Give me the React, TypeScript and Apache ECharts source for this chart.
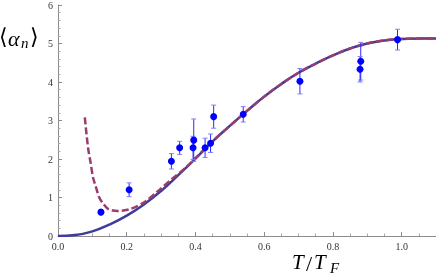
import React, { useEffect, useRef } from "react";
import * as echarts from "echarts";

// Solid theory curve
const solidT = [0, 0.05, 0.1, 0.15, 0.2, 0.25, 0.3, 0.35, 0.4, 0.45, 0.5, 0.55, 0.6, 0.65, 0.7, 0.75, 0.8, 0.85, 0.9, 0.95, 1.0, 1.05, 1.1];
const solidAlpha = [0, 0.025, 0.12, 0.3, 0.53, 0.82, 1.17, 1.58, 2.01, 2.46, 2.86, 3.25, 3.62, 3.95, 4.24, 4.48, 4.69, 4.87, 5.0, 5.08, 5.12, 5.13, 5.13];

// Dashed theory curve
const dashedT = [0.078, 0.0875, 0.095, 0.102, 0.11, 0.12, 0.13, 0.145, 0.16, 0.174, 0.19, 0.213, 0.252, 0.29, 0.33, 0.37, 0.4, 0.45, 0.5, 0.55, 0.6, 0.65, 0.7, 0.75, 0.8, 0.85, 0.9, 0.95, 1.0, 1.05, 1.1];
const dashedAlpha = [3.08, 2.29, 1.9, 1.52, 1.28, 1.0, 0.86, 0.71, 0.66, 0.65, 0.66, 0.71, 0.88, 1.16, 1.47, 1.76, 2.02, 2.46, 2.86, 3.25, 3.62, 3.95, 4.24, 4.48, 4.69, 4.87, 5.0, 5.08, 5.12, 5.13, 5.13];

// Measured points
const pointT = [0.125, 0.207, 0.33, 0.354, 0.395, 0.393, 0.428, 0.444, 0.453, 0.539, 0.704, 0.881, 0.879, 0.988];
const pointAlpha = [0.62, 1.2, 1.94, 2.29, 2.49, 2.29, 2.29, 2.41, 3.1, 3.16, 4.02, 4.54, 4.33, 5.1];
const pointErr = [0.04, 0.18, 0.2, 0.17, 0.55, 0.3, 0.25, 0.24, 0.3, 0.2, 0.33, 0.49, 0.33, 0.27];

const xTicks = { min: 0, max: 1.1, interval: 0.2 };
const yTicks = { min: 0, max: 6, interval: 1 };

const serif = "'Liberation Serif', 'DejaVu Serif', serif";

export default function App() {
  const ref = useRef<HTMLDivElement>(null);
  useEffect(() => {
    if (!ref.current) return;
    const chart = echarts.init(ref.current, undefined, { renderer: "svg" });
    const axisCommon = {
      axisLine: { show: true, onZero: false, lineStyle: { color: "#8c8c8c", width: 1 } },
      axisTick: { show: true, inside: true, length: 4, lineStyle: { color: "#8c8c8c" } },
      minorTick: { show: true, length: 2.5, lineStyle: { color: "#a8a8a8" } },
      splitLine: { show: false },
      axisLabel: { color: "#333", fontFamily: serif, fontSize: 10, margin: 5, showMaxLabel: false },
    };
    chart.setOption({
      animation: false,
      grid: { left: 58, right: 0, top: 3, bottom: 42 },
      xAxis: {
        type: "value",
        ...xTicks,
        ...axisCommon,
        minorTick: { ...axisCommon.minorTick, splitNumber: 4 },
        axisLabel: { ...axisCommon.axisLabel, formatter: (v: number) => v.toFixed(1) },
      },
      yAxis: {
        type: "value",
        ...yTicks,
        ...axisCommon,
        minorTick: { ...axisCommon.minorTick, splitNumber: 5 },
        axisLabel: { ...axisCommon.axisLabel, showMaxLabel: true },
      },
      series: [
        {
          type: "line",
          data: solidT.map((t, i) => [t, solidAlpha[i]]),
          showSymbol: false,
          smooth: 0.5,
          lineStyle: { color: "#3D3D99", width: 2.5 },
          z: 2,
        },
        {
          type: "line",
          data: dashedT.map((t, i) => [t, dashedAlpha[i]]),
          showSymbol: false,
          smooth: 0.3,
          lineStyle: { color: "#993D71", width: 2.5, type: [7, 3] },
          z: 3,
        },
        {
          type: "custom",
          data: pointT.map((t, i) => [t, pointAlpha[i], pointErr[i]]),
          encode: { x: 0, y: 1 },
          z: 4,
          renderItem: (params: any, api: any) => {
            const x = api.value(0);
            const y = api.value(1);
            const e = api.value(2);
            const top = api.coord([x, y + e]);
            const bot = api.coord([x, y - e]);
            const w = 2.5;
            return {
              type: "group",
              children: [
                { type: "line", shape: { x1: top[0], y1: top[1], x2: bot[0], y2: bot[1] }, style: { stroke: "#2a2aff", lineWidth: 1 } },
                { type: "line", shape: { x1: top[0] - w, y1: top[1], x2: top[0] + w, y2: top[1] }, style: { stroke: "#8080ff", lineWidth: 1 } },
                { type: "line", shape: { x1: bot[0] - w, y1: bot[1], x2: bot[0] + w, y2: bot[1] }, style: { stroke: "#8080ff", lineWidth: 1 } },
              ],
            };
          },
        },
        {
          type: "scatter",
          data: pointT.map((t, i) => [t, pointAlpha[i]]),
          symbolSize: 7,
          itemStyle: { color: "#0000ff", opacity: 1 },
          z: 5,
        },
      ],
      graphic: [
        { type: "text", x: -1, y: 36, style: { text: "⟨", font: `22px ${serif}`, fill: "#000", textVerticalAlign: "middle" } },
        { type: "text", x: 8, y: 38, style: { text: "α", font: `italic 22px ${serif}`, fill: "#000", textVerticalAlign: "middle" } },
        { type: "text", x: 21, y: 43, style: { text: "n", font: `italic 15px ${serif}`, fill: "#000", textVerticalAlign: "middle" } },
        { type: "text", x: 30, y: 36, style: { text: "⟩", font: `22px ${serif}`, fill: "#000", textVerticalAlign: "middle" } },
        { type: "text", x: 292, y: 262, style: { text: "T", font: `italic 21px ${serif}`, fill: "#000", textVerticalAlign: "middle" } },
        { type: "text", x: 306, y: 263, style: { text: "/", font: `22px ${serif}`, fill: "#000", textVerticalAlign: "middle" } },
        { type: "text", x: 314, y: 262, style: { text: "T", font: `italic 21px ${serif}`, fill: "#000", textVerticalAlign: "middle" } },
        { type: "text", x: 330, y: 268, style: { text: "F", font: `italic 15px ${serif}`, fill: "#000", textVerticalAlign: "middle" } },
      ],
    });
    return () => chart.dispose();
  }, []);
  return <div ref={ref} style={{ position: "fixed", left: 0, top: 0, width: 436, height: 278 }} />;
}
